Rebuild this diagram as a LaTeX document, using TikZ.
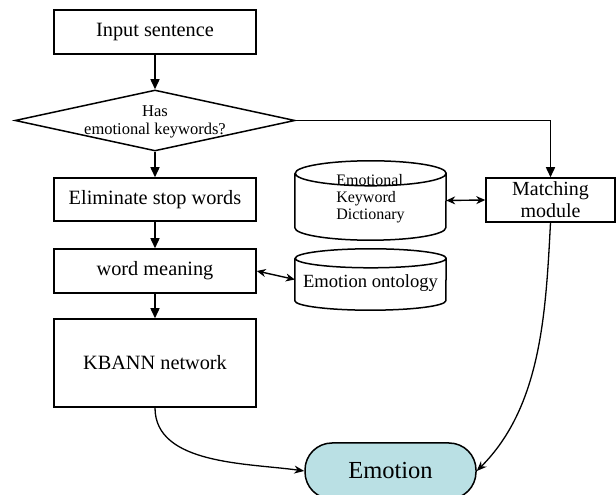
\documentclass[tikz,border=0pt]{standalone}
\usepackage{fontspec}
\setmainfont{Liberation Serif}
\usetikzlibrary{arrows.meta,shapes.geometric}
\definecolor{emofill}{RGB}{186,224,228}
\tikzset{
  box/.style={draw, line width=1.5pt, rectangle, inner sep=0pt, minimum width=202pt, font=\fontsize{20.3}{22}\selectfont},
  ghost/.style={rectangle, inner sep=0pt},
  arr/.style={line width=1.5pt, -{Triangle[length=10pt,width=9pt]}},
  darr/.style={line width=1.4pt, {Stealth[length=9pt,width=8pt]}-{Stealth[length=9pt,width=8pt]}},
  carr/.style={line width=1.3pt, -{Stealth[length=10pt,width=8pt]}},
  cyl/.style={line width=1.5pt},
}
\begin{document}
\begin{tikzpicture}[x=1pt,y=1pt]
\useasboundingbox (0,0) rectangle (616,495);
% left column
\node[box, minimum height=44pt] (inp) at (155,463) {Input sentence};
\node[draw, diamond, line width=1.5pt, inner sep=0pt, minimum width=280pt, minimum height=61pt] (dec) at (155,374.5) {};
\node[ghost, align=center, font=\fontsize{16.5}{18}\selectfont] (dectext) at (155,373) {Has\\emotional keywords?};
\node[box, minimum height=43pt] (elim) at (155,295.5) {Eliminate stop words};
\node[box, minimum height=44pt] (wm) at (155,224) {word meaning};
\node[box, minimum height=88pt] (kb) at (155,132) {KBANN network};
% emotion
\node[draw, line width=1.5pt, fill=emofill, rounded corners=27pt, minimum width=171pt, minimum height=56pt, inner sep=0pt, font=\fontsize{24.5}{26}\selectfont] (emo) at (390.5,24) {Emotion};
% matching
\node[draw, line width=1.5pt, minimum width=129pt, minimum height=44pt, inner sep=0pt, align=center, font=\fontsize{20}{22}\selectfont] (match) at (550.5,295) {Matching\\module};
% dictionary cylinder
\node[ghost, minimum width=151pt, minimum height=79pt] (dict) at (370.5,294.5) {};
\draw[cyl] ([yshift=-12.5pt]dict.north west) -- ([yshift=12.5pt]dict.south west)
  arc[start angle=180, end angle=360, x radius=75.5pt, y radius=12.5pt]
  -- ([yshift=-12.5pt]dict.north east)
  arc[start angle=0, end angle=180, x radius=75.5pt, y radius=12.5pt]
  arc[start angle=180, end angle=360, x radius=75.5pt, y radius=12.5pt];
\node[ghost, align=left, font=\fontsize{16}{17}\selectfont] (dicttext) at (370.5,296.5) {Emotional\\Keyword\\Dictionary};
% ontology cylinder
\node[ghost, minimum width=151pt, minimum height=61pt] (onto) at (370.5,215.5) {};
\draw[cyl] ([yshift=-9.5pt]onto.north west) -- ([yshift=9.5pt]onto.south west)
  arc[start angle=180, end angle=360, x radius=75.5pt, y radius=9.5pt]
  -- ([yshift=-9.5pt]onto.north east)
  arc[start angle=0, end angle=180, x radius=75.5pt, y radius=9.5pt]
  arc[start angle=180, end angle=360, x radius=75.5pt, y radius=9.5pt];
\node[ghost, font=\fontsize{18.6}{20}\selectfont] (ontotext) at (370.5,212) {Emotion ontology};
% connectors
\draw[arr] (inp.south) -- (dec.north);
\draw[arr] (dec.south) -- (elim.north);
\draw[arr] (elim.south) -- (wm.north);
\draw[arr] (wm.south) -- (kb.north);
\draw[arr] (dec.east) -| (match.north);
\draw[darr] (dict.east) -- (match.west);
\draw[darr] (wm.east) -- (onto.west);
\draw[carr] (kb.south) to[out=-90, in=172, looseness=0.9] (emo.west);
\draw[carr] (match.south) to[out=-93, in=45, looseness=0.9] (emo.east);
\end{tikzpicture}
\end{document}
